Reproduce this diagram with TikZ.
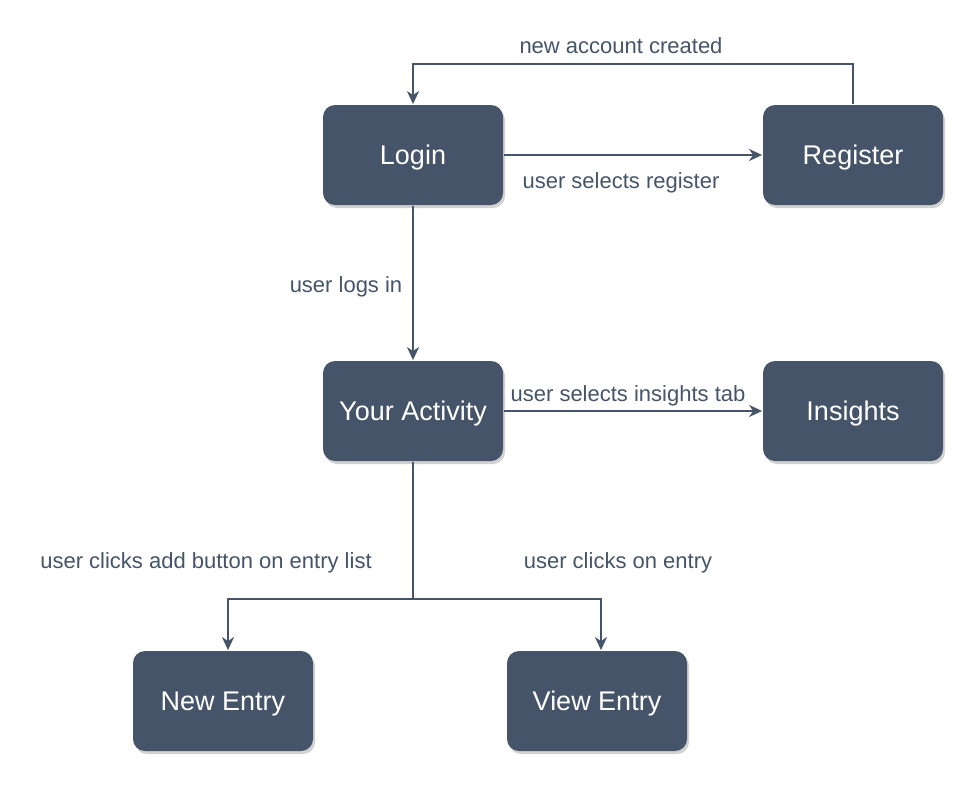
\documentclass[tikz,border=0pt]{standalone}
\usepackage{fontspec}
\setmainfont{Liberation Sans}
\usetikzlibrary{arrows.meta,shadows}
\definecolor{slate}{HTML}{455468}
\begin{document}
\begin{tikzpicture}[x=1pt,y=-1pt,->,>={Stealth[length=13pt,width=12pt,inset=4pt]},
		line width=1.8pt,color=slate,
		box/.style={rectangle,rounded corners=12pt,fill=slate,minimum width=180pt,minimum height=100pt,
			text=white,font=\fontsize{27}{30}\selectfont,text height=21pt,text depth=2pt,
			drop shadow={shadow xshift=2pt,shadow yshift=-3pt,opacity=0.18,fill=black}},
		lbl/.style={text=slate,font=\fontsize{22}{24}\selectfont,text height=0.72em,text depth=0.21em,yshift=-5pt}]
		\useasboundingbox (0,0) rectangle (976,784);
		\node[box] (login) at (413,155) {Login};
		\node[box] (reg) at (853,155) {Register};
		\node[box] (act) at (413,411) {Your Activity};
		\node[box] (ins) at (853,411) {Insights};
		\node[box] (new) at (223,701) {New Entry};
		\node[box] (view) at (597,701) {View Entry};
		\draw (login) -- (reg);
		\draw (reg.north) -- ++(0,-40) -| (login.north);
		\draw (login) -- (act);
		\draw (act) -- (ins);
		\draw (act.south) -- ++(0,137) -| ([xshift=5pt]new.north);
		\draw (act.south) -- ++(0,137) -| ([xshift=4pt]view.north);
		\node[lbl] (created) at (621,46) {new account created};
		\node[lbl] (selreg) at (621,181) {user selects register};
		\node[lbl] (logsin) at (346,285) {user logs in};
		\node[lbl] (selins) at (628,394) {user selects insights tab};
		\node[lbl] (addbtn) at (206,561) {user clicks add button on entry list};
		\node[lbl] (clicks) at (618,561) {user clicks on entry};
	\end{tikzpicture}
\end{document}
